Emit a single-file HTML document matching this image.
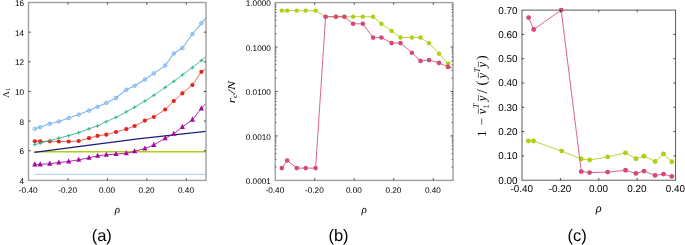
<!DOCTYPE html>
<html><head><meta charset="utf-8"><title>figure</title>
<style>html,body{margin:0;padding:0;background:#fff}svg{display:block;text-rendering:geometricPrecision}</style></head>
<body>
<svg width="685" height="245" viewBox="0 0 685 245">
<rect width="685" height="245" fill="#fff"/>
<clipPath id="ca"><rect x="28.50" y="2.50" width="177.50" height="177.90"/></clipPath>
<g clip-path="url(#ca)">
<polyline fill="none" stroke="#9ccbee" stroke-width="0.90" stroke-linejoin="round" points="34.4,174.4 206.5,174.4" />
<polyline fill="none" stroke="#afce14" stroke-width="1.50" stroke-linejoin="round" points="34.4,151.8 206.5,151.8" />
<polyline fill="none" stroke="#1c1c82" stroke-width="1.35" stroke-linejoin="round" points="34.4,152.3 80.0,146.4 140.0,138.6 206.5,131.3" />
<polyline fill="none" stroke="#78b6f2" stroke-width="1.10" stroke-linejoin="round" points="34.8,128.7 40.2,127.2 49.8,123.8 58.8,121.5 68.7,118.1 78.7,114.6 89.0,110.6 97.6,106.8 106.3,102.9 116.0,97.9 126.3,89.8 134.6,85.8 144.9,79.5 153.8,73.4 165.2,65.6 173.8,53.5 182.4,48.0 192.4,34.0 201.4,23.3 206.2,17.6" />
<polyline fill="none" stroke="#e8231a" stroke-width="0.70" stroke-linejoin="round" points="34.8,141.3 40.2,141.3 49.8,141.3 58.8,141.5 68.7,141.5 78.7,141.0 89.0,138.2 97.6,135.8 106.3,134.7 116.0,132.0 126.3,129.1 134.6,126.0 144.9,120.6 153.8,117.0 165.2,109.5 173.8,101.0 182.4,93.3 192.4,85.0 201.4,71.8 206.2,68.3" />
<polyline fill="none" stroke="#2db384" stroke-width="0.85" stroke-linejoin="round" points="34.8,144.6 40.2,143.3 49.8,140.6 58.8,138.2 68.7,135.6 78.7,132.6 89.0,128.8 97.6,125.9 106.3,121.6 116.0,117.3 126.3,111.9 134.6,107.2 144.9,101.0 153.8,95.3 165.2,87.4 173.8,81.3 182.4,74.9 192.4,67.6 201.4,60.5 206.2,56.4" />
<polyline fill="none" stroke="#a3089f" stroke-width="0.85" stroke-linejoin="round" points="34.8,164.4 40.2,164.4 49.8,163.7 58.8,162.5 68.7,161.5 78.7,159.8 89.0,157.8 97.6,155.8 106.3,154.8 116.0,154.1 126.3,153.3 134.6,151.3 144.9,148.6 153.8,144.9 165.2,138.3 173.8,133.8 182.4,126.9 192.4,119.7 201.4,108.4 206.2,103.0" />
</g>
<circle cx="34.8" cy="128.7" r="1.75" fill="#78b6f2" fill-opacity="0.25" stroke="#78b6f2" stroke-width="1.0"/>
<circle cx="40.2" cy="127.2" r="1.75" fill="#78b6f2" fill-opacity="0.25" stroke="#78b6f2" stroke-width="1.0"/>
<circle cx="49.8" cy="123.8" r="1.75" fill="#78b6f2" fill-opacity="0.25" stroke="#78b6f2" stroke-width="1.0"/>
<circle cx="58.8" cy="121.5" r="1.75" fill="#78b6f2" fill-opacity="0.25" stroke="#78b6f2" stroke-width="1.0"/>
<circle cx="68.7" cy="118.1" r="1.75" fill="#78b6f2" fill-opacity="0.25" stroke="#78b6f2" stroke-width="1.0"/>
<circle cx="78.7" cy="114.6" r="1.75" fill="#78b6f2" fill-opacity="0.25" stroke="#78b6f2" stroke-width="1.0"/>
<circle cx="89.0" cy="110.6" r="1.75" fill="#78b6f2" fill-opacity="0.25" stroke="#78b6f2" stroke-width="1.0"/>
<circle cx="97.6" cy="106.8" r="1.75" fill="#78b6f2" fill-opacity="0.25" stroke="#78b6f2" stroke-width="1.0"/>
<circle cx="106.3" cy="102.9" r="1.75" fill="#78b6f2" fill-opacity="0.25" stroke="#78b6f2" stroke-width="1.0"/>
<circle cx="116.0" cy="97.9" r="1.75" fill="#78b6f2" fill-opacity="0.25" stroke="#78b6f2" stroke-width="1.0"/>
<circle cx="126.3" cy="89.8" r="1.75" fill="#78b6f2" fill-opacity="0.25" stroke="#78b6f2" stroke-width="1.0"/>
<circle cx="134.6" cy="85.8" r="1.75" fill="#78b6f2" fill-opacity="0.25" stroke="#78b6f2" stroke-width="1.0"/>
<circle cx="144.9" cy="79.5" r="1.75" fill="#78b6f2" fill-opacity="0.25" stroke="#78b6f2" stroke-width="1.0"/>
<circle cx="153.8" cy="73.4" r="1.75" fill="#78b6f2" fill-opacity="0.25" stroke="#78b6f2" stroke-width="1.0"/>
<circle cx="165.2" cy="65.6" r="1.75" fill="#78b6f2" fill-opacity="0.25" stroke="#78b6f2" stroke-width="1.0"/>
<circle cx="173.8" cy="53.5" r="1.75" fill="#78b6f2" fill-opacity="0.25" stroke="#78b6f2" stroke-width="1.0"/>
<circle cx="182.4" cy="48.0" r="1.75" fill="#78b6f2" fill-opacity="0.25" stroke="#78b6f2" stroke-width="1.0"/>
<circle cx="192.4" cy="34.0" r="1.75" fill="#78b6f2" fill-opacity="0.25" stroke="#78b6f2" stroke-width="1.0"/>
<circle cx="201.4" cy="23.3" r="1.75" fill="#78b6f2" fill-opacity="0.25" stroke="#78b6f2" stroke-width="1.0"/>
<circle cx="34.8" cy="141.3" r="2.1" fill="#e8231a"/>
<circle cx="40.2" cy="141.3" r="2.1" fill="#e8231a"/>
<circle cx="49.8" cy="141.3" r="2.1" fill="#e8231a"/>
<circle cx="58.8" cy="141.5" r="2.1" fill="#e8231a"/>
<circle cx="68.7" cy="141.5" r="2.1" fill="#e8231a"/>
<circle cx="78.7" cy="141.0" r="2.1" fill="#e8231a"/>
<circle cx="89.0" cy="138.2" r="2.1" fill="#e8231a"/>
<circle cx="97.6" cy="135.8" r="2.1" fill="#e8231a"/>
<circle cx="106.3" cy="134.7" r="2.1" fill="#e8231a"/>
<circle cx="116.0" cy="132.0" r="2.1" fill="#e8231a"/>
<circle cx="126.3" cy="129.1" r="2.1" fill="#e8231a"/>
<circle cx="134.6" cy="126.0" r="2.1" fill="#e8231a"/>
<circle cx="144.9" cy="120.6" r="2.1" fill="#e8231a"/>
<circle cx="153.8" cy="117.0" r="2.1" fill="#e8231a"/>
<circle cx="165.2" cy="109.5" r="2.1" fill="#e8231a"/>
<circle cx="173.8" cy="101.0" r="2.1" fill="#e8231a"/>
<circle cx="182.4" cy="93.3" r="2.1" fill="#e8231a"/>
<circle cx="192.4" cy="85.0" r="2.1" fill="#e8231a"/>
<circle cx="201.4" cy="71.8" r="2.1" fill="#e8231a"/>
<path d="M32.9 144.6h3.7M34.8 142.8v3.7" stroke="#2db384" stroke-width="0.9"/>
<path d="M38.4 143.3h3.7M40.2 141.5v3.7" stroke="#2db384" stroke-width="0.9"/>
<path d="M47.9 140.6h3.7M49.8 138.8v3.7" stroke="#2db384" stroke-width="0.9"/>
<path d="M56.9 138.2h3.7M58.8 136.3v3.7" stroke="#2db384" stroke-width="0.9"/>
<path d="M66.9 135.6h3.7M68.7 133.8v3.7" stroke="#2db384" stroke-width="0.9"/>
<path d="M76.9 132.6h3.7M78.7 130.8v3.7" stroke="#2db384" stroke-width="0.9"/>
<path d="M87.2 128.8h3.7M89.0 127.0v3.7" stroke="#2db384" stroke-width="0.9"/>
<path d="M95.8 125.9h3.7M97.6 124.1v3.7" stroke="#2db384" stroke-width="0.9"/>
<path d="M104.5 121.6h3.7M106.3 119.8v3.7" stroke="#2db384" stroke-width="0.9"/>
<path d="M114.2 117.3h3.7M116.0 115.5v3.7" stroke="#2db384" stroke-width="0.9"/>
<path d="M124.5 111.9h3.7M126.3 110.1v3.7" stroke="#2db384" stroke-width="0.9"/>
<path d="M132.8 107.2h3.7M134.6 105.4v3.7" stroke="#2db384" stroke-width="0.9"/>
<path d="M143.1 101.0h3.7M144.9 99.2v3.7" stroke="#2db384" stroke-width="0.9"/>
<path d="M152.0 95.3h3.7M153.8 93.5v3.7" stroke="#2db384" stroke-width="0.9"/>
<path d="M163.3 87.4h3.7M165.2 85.6v3.7" stroke="#2db384" stroke-width="0.9"/>
<path d="M172.0 81.3h3.7M173.8 79.5v3.7" stroke="#2db384" stroke-width="0.9"/>
<path d="M180.6 74.9h3.7M182.4 73.1v3.7" stroke="#2db384" stroke-width="0.9"/>
<path d="M190.6 67.6h3.7M192.4 65.8v3.7" stroke="#2db384" stroke-width="0.9"/>
<path d="M199.6 60.5h3.7M201.4 58.6v3.7" stroke="#2db384" stroke-width="0.9"/>
<path d="M34.8 161.3L37.4 166.4L32.2 166.4Z" fill="#a3089f"/>
<path d="M40.2 161.3L42.8 166.4L37.6 166.4Z" fill="#a3089f"/>
<path d="M49.8 160.6L52.4 165.7L47.2 165.7Z" fill="#a3089f"/>
<path d="M58.8 159.4L61.4 164.5L56.2 164.5Z" fill="#a3089f"/>
<path d="M68.7 158.4L71.3 163.5L66.1 163.5Z" fill="#a3089f"/>
<path d="M78.7 156.7L81.3 161.8L76.1 161.8Z" fill="#a3089f"/>
<path d="M89.0 154.7L91.6 159.8L86.4 159.8Z" fill="#a3089f"/>
<path d="M97.6 152.7L100.2 157.8L95.0 157.8Z" fill="#a3089f"/>
<path d="M106.3 151.7L108.9 156.8L103.7 156.8Z" fill="#a3089f"/>
<path d="M116.0 151.0L118.6 156.1L113.4 156.1Z" fill="#a3089f"/>
<path d="M126.3 150.2L128.9 155.3L123.7 155.3Z" fill="#a3089f"/>
<path d="M134.6 148.2L137.2 153.3L132.0 153.3Z" fill="#a3089f"/>
<path d="M144.9 145.5L147.5 150.6L142.3 150.6Z" fill="#a3089f"/>
<path d="M153.8 141.8L156.4 146.9L151.2 146.9Z" fill="#a3089f"/>
<path d="M165.2 135.2L167.8 140.3L162.6 140.3Z" fill="#a3089f"/>
<path d="M173.8 130.7L176.4 135.8L171.2 135.8Z" fill="#a3089f"/>
<path d="M182.4 123.8L185.0 128.9L179.8 128.9Z" fill="#a3089f"/>
<path d="M192.4 116.6L195.0 121.7L189.8 121.7Z" fill="#a3089f"/>
<path d="M201.4 105.3L204.0 110.4L198.8 110.4Z" fill="#a3089f"/>
<rect x="28.50" y="2.50" width="177.50" height="177.90" fill="none" stroke="#a0a0a0" stroke-width="1.40"/>
<path d="M67.94 180.40v-2.20M67.94 2.50v2.20" stroke="#222" stroke-width="0.80"/>
<path d="M107.39 180.40v-2.20M107.39 2.50v2.20" stroke="#222" stroke-width="0.80"/>
<path d="M146.83 180.40v-2.20M146.83 2.50v2.20" stroke="#222" stroke-width="0.80"/>
<path d="M186.28 180.40v-2.20M186.28 2.50v2.20" stroke="#222" stroke-width="0.80"/>
<path d="M28.50 32.15h2.20M206.00 32.15h-2.20" stroke="#222" stroke-width="0.80"/>
<path d="M28.50 61.80h2.20M206.00 61.80h-2.20" stroke="#222" stroke-width="0.80"/>
<path d="M28.50 91.45h2.20M206.00 91.45h-2.20" stroke="#222" stroke-width="0.80"/>
<path d="M28.50 121.10h2.20M206.00 121.10h-2.20" stroke="#222" stroke-width="0.80"/>
<path d="M28.50 150.75h2.20M206.00 150.75h-2.20" stroke="#222" stroke-width="0.80"/>
<text x="28.20" y="193.00" font-size="8.20" text-anchor="middle" font-family='"Liberation Sans", Arial, sans-serif' >-0.40</text>
<text x="67.64" y="193.00" font-size="8.20" text-anchor="middle" font-family='"Liberation Sans", Arial, sans-serif' >-0.20</text>
<text x="107.09" y="193.00" font-size="8.20" text-anchor="middle" font-family='"Liberation Sans", Arial, sans-serif' >0.00</text>
<text x="146.53" y="193.00" font-size="8.20" text-anchor="middle" font-family='"Liberation Sans", Arial, sans-serif' >0.20</text>
<text x="185.98" y="193.00" font-size="8.20" text-anchor="middle" font-family='"Liberation Sans", Arial, sans-serif' >0.40</text>
<text x="24.00" y="5.90" font-size="8.20" text-anchor="end" font-family='"Liberation Sans", Arial, sans-serif' >16</text>
<text x="24.00" y="35.55" font-size="8.20" text-anchor="end" font-family='"Liberation Sans", Arial, sans-serif' >14</text>
<text x="24.00" y="65.20" font-size="8.20" text-anchor="end" font-family='"Liberation Sans", Arial, sans-serif' >12</text>
<text x="24.00" y="94.85" font-size="8.20" text-anchor="end" font-family='"Liberation Sans", Arial, sans-serif' >10</text>
<text x="24.00" y="124.50" font-size="8.20" text-anchor="end" font-family='"Liberation Sans", Arial, sans-serif' >8</text>
<text x="24.00" y="154.15" font-size="8.20" text-anchor="end" font-family='"Liberation Sans", Arial, sans-serif' >6</text>
<text x="24.00" y="183.80" font-size="8.20" text-anchor="end" font-family='"Liberation Sans", Arial, sans-serif' >4</text>
<text x="117.30" y="213.00" font-size="11.00" text-anchor="middle" font-family='"Liberation Serif", "DejaVu Serif", serif' font-style="italic">ρ</text>
<text transform="translate(8.8,92.9) rotate(-90)" text-anchor="middle" font-size="9" font-family='"Liberation Serif", "DejaVu Serif", serif'>Λ<tspan font-size="6" dy="1.2">1</tspan></text>
<text x="101.80" y="240.70" font-size="16.50" text-anchor="middle" font-family='"Liberation Sans", Arial, sans-serif' >(a)</text>
<clipPath id="cb"><rect x="275.20" y="2.60" width="177.80" height="177.80"/></clipPath>
<g clip-path="url(#cb)">
<polyline fill="none" stroke="#afce14" stroke-width="0.85" stroke-linejoin="round" points="281.8,10.6 287.2,10.6 296.8,10.6 305.7,10.6 315.6,10.6 325.6,16.7 335.9,16.7 344.4,16.7 353.1,16.7 362.8,16.7 373.1,16.7 381.4,23.8 391.6,30.9 400.5,37.5 411.9,37.5 420.5,37.5 429.0,43.1 439.0,53.7 448.0,63.6 453.3,60.9" />
</g>
<circle cx="281.8" cy="10.6" r="2.2" fill="#afce14"/>
<circle cx="287.2" cy="10.6" r="2.2" fill="#afce14"/>
<circle cx="296.8" cy="10.6" r="2.2" fill="#afce14"/>
<circle cx="305.7" cy="10.6" r="2.2" fill="#afce14"/>
<circle cx="315.6" cy="10.6" r="2.2" fill="#afce14"/>
<circle cx="325.6" cy="16.7" r="2.2" fill="#afce14"/>
<circle cx="335.9" cy="16.7" r="2.2" fill="#afce14"/>
<circle cx="344.4" cy="16.7" r="2.2" fill="#afce14"/>
<circle cx="353.1" cy="16.7" r="2.2" fill="#afce14"/>
<circle cx="362.8" cy="16.7" r="2.2" fill="#afce14"/>
<circle cx="373.1" cy="16.7" r="2.2" fill="#afce14"/>
<circle cx="381.4" cy="23.8" r="2.2" fill="#afce14"/>
<circle cx="391.6" cy="30.9" r="2.2" fill="#afce14"/>
<circle cx="400.5" cy="37.5" r="2.2" fill="#afce14"/>
<circle cx="411.9" cy="37.5" r="2.2" fill="#afce14"/>
<circle cx="420.5" cy="37.5" r="2.2" fill="#afce14"/>
<circle cx="429.0" cy="43.1" r="2.2" fill="#afce14"/>
<circle cx="439.0" cy="53.7" r="2.2" fill="#afce14"/>
<circle cx="448.0" cy="63.6" r="2.2" fill="#afce14"/>
<g clip-path="url(#cb)">
<polyline fill="none" stroke="#d4497a" stroke-width="0.85" stroke-linejoin="round" points="281.8,168.1 287.2,160.5 296.8,168.1 305.7,168.1 315.6,168.1 325.6,16.7 335.9,16.7 344.4,16.7 353.1,23.8 362.8,23.8 373.1,37.6 381.4,37.5 391.6,43.1 400.5,43.1 411.9,52.7 420.5,60.9 429.0,60.1 439.0,62.9 448.0,66.9 453.3,67.9" />
</g>
<circle cx="281.8" cy="168.1" r="2.3" fill="#d4497a"/>
<circle cx="287.2" cy="160.5" r="2.3" fill="#d4497a"/>
<circle cx="296.8" cy="168.1" r="2.3" fill="#d4497a"/>
<circle cx="305.7" cy="168.1" r="2.3" fill="#d4497a"/>
<circle cx="315.6" cy="168.1" r="2.3" fill="#d4497a"/>
<circle cx="325.6" cy="16.7" r="2.3" fill="#d4497a"/>
<circle cx="335.9" cy="16.7" r="2.3" fill="#d4497a"/>
<circle cx="344.4" cy="16.7" r="2.3" fill="#d4497a"/>
<circle cx="353.1" cy="23.8" r="2.3" fill="#d4497a"/>
<circle cx="362.8" cy="23.8" r="2.3" fill="#d4497a"/>
<circle cx="373.1" cy="37.6" r="2.3" fill="#d4497a"/>
<circle cx="381.4" cy="37.5" r="2.3" fill="#d4497a"/>
<circle cx="391.6" cy="43.1" r="2.3" fill="#d4497a"/>
<circle cx="400.5" cy="43.1" r="2.3" fill="#d4497a"/>
<circle cx="411.9" cy="52.7" r="2.3" fill="#d4497a"/>
<circle cx="420.5" cy="60.9" r="2.3" fill="#d4497a"/>
<circle cx="429.0" cy="60.1" r="2.3" fill="#d4497a"/>
<circle cx="439.0" cy="62.9" r="2.3" fill="#d4497a"/>
<circle cx="448.0" cy="66.9" r="2.3" fill="#d4497a"/>
<rect x="275.20" y="2.60" width="177.80" height="177.80" fill="none" stroke="#a0a0a0" stroke-width="1.40"/>
<path d="M314.71 180.40v-2.20M314.71 2.60v2.20" stroke="#222" stroke-width="0.80"/>
<path d="M354.22 180.40v-2.20M354.22 2.60v2.20" stroke="#222" stroke-width="0.80"/>
<path d="M393.73 180.40v-2.20M393.73 2.60v2.20" stroke="#222" stroke-width="0.80"/>
<path d="M433.24 180.40v-2.20M433.24 2.60v2.20" stroke="#222" stroke-width="0.80"/>
<path d="M275.20 47.05h2.40M453.00 47.05h-2.40" stroke="#222" stroke-width="0.80"/>
<path d="M275.20 91.50h2.40M453.00 91.50h-2.40" stroke="#222" stroke-width="0.80"/>
<path d="M275.20 135.95h2.40M453.00 135.95h-2.40" stroke="#222" stroke-width="0.80"/>
<path d="M275.20 33.67h1.30M453.00 33.67h-1.30" stroke="#222" stroke-width="0.70"/>
<path d="M275.20 25.84h1.30M453.00 25.84h-1.30" stroke="#222" stroke-width="0.70"/>
<path d="M275.20 20.29h1.30M453.00 20.29h-1.30" stroke="#222" stroke-width="0.70"/>
<path d="M275.20 15.98h1.30M453.00 15.98h-1.30" stroke="#222" stroke-width="0.70"/>
<path d="M275.20 12.46h1.30M453.00 12.46h-1.30" stroke="#222" stroke-width="0.70"/>
<path d="M275.20 9.49h1.30M453.00 9.49h-1.30" stroke="#222" stroke-width="0.70"/>
<path d="M275.20 6.91h1.30M453.00 6.91h-1.30" stroke="#222" stroke-width="0.70"/>
<path d="M275.20 4.63h1.30M453.00 4.63h-1.30" stroke="#222" stroke-width="0.70"/>
<path d="M275.20 78.12h1.30M453.00 78.12h-1.30" stroke="#222" stroke-width="0.70"/>
<path d="M275.20 70.29h1.30M453.00 70.29h-1.30" stroke="#222" stroke-width="0.70"/>
<path d="M275.20 64.74h1.30M453.00 64.74h-1.30" stroke="#222" stroke-width="0.70"/>
<path d="M275.20 60.43h1.30M453.00 60.43h-1.30" stroke="#222" stroke-width="0.70"/>
<path d="M275.20 56.91h1.30M453.00 56.91h-1.30" stroke="#222" stroke-width="0.70"/>
<path d="M275.20 53.94h1.30M453.00 53.94h-1.30" stroke="#222" stroke-width="0.70"/>
<path d="M275.20 51.36h1.30M453.00 51.36h-1.30" stroke="#222" stroke-width="0.70"/>
<path d="M275.20 49.08h1.30M453.00 49.08h-1.30" stroke="#222" stroke-width="0.70"/>
<path d="M275.20 122.57h1.30M453.00 122.57h-1.30" stroke="#222" stroke-width="0.70"/>
<path d="M275.20 114.74h1.30M453.00 114.74h-1.30" stroke="#222" stroke-width="0.70"/>
<path d="M275.20 109.19h1.30M453.00 109.19h-1.30" stroke="#222" stroke-width="0.70"/>
<path d="M275.20 104.88h1.30M453.00 104.88h-1.30" stroke="#222" stroke-width="0.70"/>
<path d="M275.20 101.36h1.30M453.00 101.36h-1.30" stroke="#222" stroke-width="0.70"/>
<path d="M275.20 98.39h1.30M453.00 98.39h-1.30" stroke="#222" stroke-width="0.70"/>
<path d="M275.20 95.81h1.30M453.00 95.81h-1.30" stroke="#222" stroke-width="0.70"/>
<path d="M275.20 93.53h1.30M453.00 93.53h-1.30" stroke="#222" stroke-width="0.70"/>
<path d="M275.20 167.02h1.30M453.00 167.02h-1.30" stroke="#222" stroke-width="0.70"/>
<path d="M275.20 159.19h1.30M453.00 159.19h-1.30" stroke="#222" stroke-width="0.70"/>
<path d="M275.20 153.64h1.30M453.00 153.64h-1.30" stroke="#222" stroke-width="0.70"/>
<path d="M275.20 149.33h1.30M453.00 149.33h-1.30" stroke="#222" stroke-width="0.70"/>
<path d="M275.20 145.81h1.30M453.00 145.81h-1.30" stroke="#222" stroke-width="0.70"/>
<path d="M275.20 142.84h1.30M453.00 142.84h-1.30" stroke="#222" stroke-width="0.70"/>
<path d="M275.20 140.26h1.30M453.00 140.26h-1.30" stroke="#222" stroke-width="0.70"/>
<path d="M275.20 137.98h1.30M453.00 137.98h-1.30" stroke="#222" stroke-width="0.70"/>
<text x="274.90" y="193.00" font-size="8.20" text-anchor="middle" font-family='"Liberation Sans", Arial, sans-serif' >-0.40</text>
<text x="314.41" y="193.00" font-size="8.20" text-anchor="middle" font-family='"Liberation Sans", Arial, sans-serif' >-0.20</text>
<text x="353.92" y="193.00" font-size="8.20" text-anchor="middle" font-family='"Liberation Sans", Arial, sans-serif' >0.00</text>
<text x="393.43" y="193.00" font-size="8.20" text-anchor="middle" font-family='"Liberation Sans", Arial, sans-serif' >0.20</text>
<text x="432.94" y="193.00" font-size="8.20" text-anchor="middle" font-family='"Liberation Sans", Arial, sans-serif' >0.40</text>
<text x="270.80" y="6.20" font-size="8.20" text-anchor="end" font-family='"Liberation Sans", Arial, sans-serif' >1.0000</text>
<text x="270.80" y="50.65" font-size="8.20" text-anchor="end" font-family='"Liberation Sans", Arial, sans-serif' >0.1000</text>
<text x="270.80" y="95.10" font-size="8.20" text-anchor="end" font-family='"Liberation Sans", Arial, sans-serif' >0.0100</text>
<text x="270.80" y="139.55" font-size="8.20" text-anchor="end" font-family='"Liberation Sans", Arial, sans-serif' >0.0010</text>
<text x="270.80" y="184.00" font-size="8.20" text-anchor="end" font-family='"Liberation Sans", Arial, sans-serif' >0.0001</text>
<text x="364.20" y="213.00" font-size="11.00" text-anchor="middle" font-family='"Liberation Serif", "DejaVu Serif", serif' font-style="italic">ρ</text>
<text transform="translate(235.2,92.2) rotate(-90) scale(1.3,1)" text-anchor="middle" font-size="10.4" font-style="italic" font-family='"Liberation Serif", "DejaVu Serif", serif'>r<tspan font-size="7.3" dy="1.6">c</tspan><tspan dy="-1.6">/N</tspan></text>
<text x="338.50" y="240.70" font-size="16.50" text-anchor="middle" font-family='"Liberation Sans", Arial, sans-serif' >(b)</text>
<clipPath id="cc"><rect x="522.00" y="7.10" width="153.60" height="173.10"/></clipPath>
<polyline fill="none" stroke="#afce14" stroke-width="0.85" stroke-linejoin="round" points="528.4,141.0 533.5,141.0 561.7,151.1 581.3,159.0 589.6,160.0 607.6,156.9 625.5,152.9 635.9,158.7 644.0,156.2 655.1,161.5 663.5,153.9 671.8,161.7" />
<circle cx="528.4" cy="141.0" r="2.45" fill="#afce14"/>
<circle cx="533.5" cy="141.0" r="2.45" fill="#afce14"/>
<circle cx="561.7" cy="151.1" r="2.45" fill="#afce14"/>
<circle cx="581.3" cy="159.0" r="2.45" fill="#afce14"/>
<circle cx="589.6" cy="160.0" r="2.45" fill="#afce14"/>
<circle cx="607.6" cy="156.9" r="2.45" fill="#afce14"/>
<circle cx="625.5" cy="152.9" r="2.45" fill="#afce14"/>
<circle cx="635.9" cy="158.7" r="2.45" fill="#afce14"/>
<circle cx="644.0" cy="156.2" r="2.45" fill="#afce14"/>
<circle cx="655.1" cy="161.5" r="2.45" fill="#afce14"/>
<circle cx="663.5" cy="153.9" r="2.45" fill="#afce14"/>
<circle cx="671.8" cy="161.7" r="2.45" fill="#afce14"/>
<polyline fill="none" stroke="#d4497a" stroke-width="0.85" stroke-linejoin="round" points="528.6,17.6 533.7,29.5 561.2,10.1 581.3,171.6 589.6,172.6 607.6,172.1 625.5,170.3 635.9,173.4 644.0,171.1 655.1,175.4 663.5,174.1 671.8,176.4" />
<rect x="522.00" y="10.10" width="153.60" height="170.10" fill="none" stroke="#4a4a4a" stroke-width="0.90"/>
<circle cx="528.6" cy="17.6" r="2.45" fill="#d4497a"/>
<circle cx="533.7" cy="29.5" r="2.45" fill="#d4497a"/>
<circle cx="561.2" cy="10.1" r="2.45" fill="#d4497a"/>
<circle cx="581.3" cy="171.6" r="2.45" fill="#d4497a"/>
<circle cx="589.6" cy="172.6" r="2.45" fill="#d4497a"/>
<circle cx="607.6" cy="172.1" r="2.45" fill="#d4497a"/>
<circle cx="625.5" cy="170.3" r="2.45" fill="#d4497a"/>
<circle cx="635.9" cy="173.4" r="2.45" fill="#d4497a"/>
<circle cx="644.0" cy="171.1" r="2.45" fill="#d4497a"/>
<circle cx="655.1" cy="175.4" r="2.45" fill="#d4497a"/>
<circle cx="663.5" cy="174.1" r="2.45" fill="#d4497a"/>
<circle cx="671.8" cy="176.4" r="2.45" fill="#d4497a"/>
<path d="M560.40 180.20v-2.20M560.40 10.10v2.20" stroke="#222" stroke-width="0.80"/>
<path d="M598.80 180.20v-2.20M598.80 10.10v2.20" stroke="#222" stroke-width="0.80"/>
<path d="M637.20 180.20v-2.20M637.20 10.10v2.20" stroke="#222" stroke-width="0.80"/>
<path d="M522.00 34.40h2.20M675.60 34.40h-2.20" stroke="#222" stroke-width="0.80"/>
<path d="M522.00 58.70h2.20M675.60 58.70h-2.20" stroke="#222" stroke-width="0.80"/>
<path d="M522.00 83.00h2.20M675.60 83.00h-2.20" stroke="#222" stroke-width="0.80"/>
<path d="M522.00 107.30h2.20M675.60 107.30h-2.20" stroke="#222" stroke-width="0.80"/>
<path d="M522.00 131.60h2.20M675.60 131.60h-2.20" stroke="#222" stroke-width="0.80"/>
<path d="M522.00 155.90h2.20M675.60 155.90h-2.20" stroke="#222" stroke-width="0.80"/>
<text x="521.70" y="192.00" font-size="9.90" text-anchor="middle" font-family='"Liberation Sans", Arial, sans-serif' >-0.40</text>
<text x="560.10" y="192.00" font-size="9.90" text-anchor="middle" font-family='"Liberation Sans", Arial, sans-serif' >-0.20</text>
<text x="598.50" y="192.00" font-size="9.90" text-anchor="middle" font-family='"Liberation Sans", Arial, sans-serif' >0.00</text>
<text x="636.90" y="192.00" font-size="9.90" text-anchor="middle" font-family='"Liberation Sans", Arial, sans-serif' >0.20</text>
<text x="675.30" y="192.00" font-size="9.90" text-anchor="middle" font-family='"Liberation Sans", Arial, sans-serif' >0.40</text>
<text x="517.40" y="13.50" font-size="9.90" text-anchor="end" font-family='"Liberation Sans", Arial, sans-serif' >0.70</text>
<text x="517.40" y="37.80" font-size="9.90" text-anchor="end" font-family='"Liberation Sans", Arial, sans-serif' >0.60</text>
<text x="517.40" y="62.10" font-size="9.90" text-anchor="end" font-family='"Liberation Sans", Arial, sans-serif' >0.50</text>
<text x="517.40" y="86.40" font-size="9.90" text-anchor="end" font-family='"Liberation Sans", Arial, sans-serif' >0.40</text>
<text x="517.40" y="110.70" font-size="9.90" text-anchor="end" font-family='"Liberation Sans", Arial, sans-serif' >0.30</text>
<text x="517.40" y="135.00" font-size="9.90" text-anchor="end" font-family='"Liberation Sans", Arial, sans-serif' >0.20</text>
<text x="517.40" y="159.30" font-size="9.90" text-anchor="end" font-family='"Liberation Sans", Arial, sans-serif' >0.10</text>
<text x="517.40" y="183.60" font-size="9.90" text-anchor="end" font-family='"Liberation Sans", Arial, sans-serif' >0.00</text>
<text x="598.80" y="212.00" font-size="12.20" text-anchor="middle" font-family='"Liberation Serif", "DejaVu Serif", serif' font-style="italic">ρ</text>
<g transform="translate(485.8,136.0) rotate(-90)" font-family='"Liberation Serif", "DejaVu Serif", serif' font-size="12">
<text x="-0.8" y="0.0" font-size="12.6">1</text>
<text x="11.0" y="0.0" font-size="12.6">−</text>
<text x="21.8" y="0.0" font-size="12.6" font-style="italic">v</text>
<path d="M22.2 -7.4H27.6" stroke="#111" stroke-width="0.6"/>
<text x="27.6" y="2.8" font-size="8.6">1</text>
<text x="27.8" y="-6.6" font-size="8.6" font-style="italic">T</text>
<text x="34.8" y="0.0" font-size="12.6" font-style="italic">y</text>
<path d="M35.2 -7.4H41.2" stroke="#111" stroke-width="0.6"/>
<text x="42.4" y="0.8" font-size="15.0">/</text>
<text x="50.6" y="0.6" font-size="14.0">(</text>
<text x="57.6" y="0.0" font-size="12.6" font-style="italic">y</text>
<path d="M58.0 -7.4H63.8" stroke="#111" stroke-width="0.6"/>
<text x="63.6" y="-5.6" font-size="8.6" font-style="italic">T</text>
<text x="68.4" y="0.0" font-size="12.6" font-style="italic">y</text>
<path d="M68.8 -7.4H74.6" stroke="#111" stroke-width="0.6"/>
<text x="76.0" y="0.6" font-size="14.0">)</text>
</g>
<text x="577.20" y="240.90" font-size="16.50" text-anchor="middle" font-family='"Liberation Sans", Arial, sans-serif' >(c)</text>
</svg>
</body></html>
